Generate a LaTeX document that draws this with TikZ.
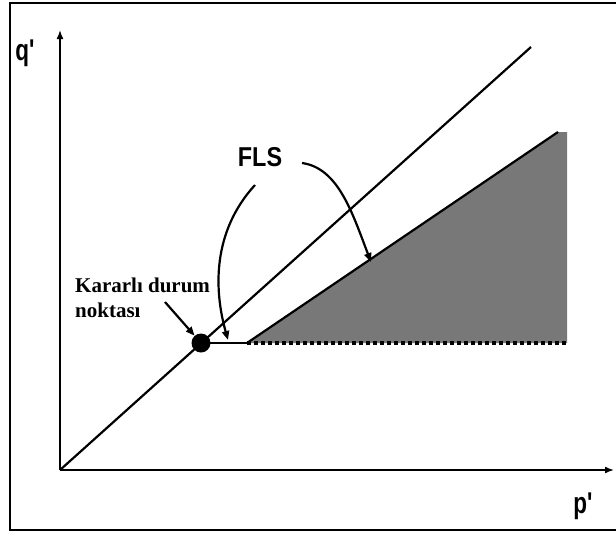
\documentclass[tikz,border=0pt]{standalone}
\usepackage{fontspec}
\setmainfont{Liberation Serif}
\setsansfont{Liberation Sans}
\usetikzlibrary{arrows.meta,calc,positioning}
\definecolor{ZoneGray}{RGB}{120,120,120}

\begin{document}
\begin{tikzpicture}[x=1pt,y=-1pt,>=Latex,
  axisline/.style={line width=1.6pt,-{Latex[length=9pt,width=7pt]}},
  stateline/.style={line width=2.2pt},
  pointer/.style={line width=2.2pt,-{Triangle[length=9pt,width=7pt]}},
  axislabel/.style={font=\sffamily\bfseries\fontsize{25}{25}\selectfont,inner sep=0pt}]
\useasboundingbox (0,0) rectangle (616,536);
% frame
\draw[line width=2.5pt] (618,3) -- (10,3) -- (10,530) -- (618,530);
% axes
\coordinate (o) at (60,470);
\coordinate (ytop) at (60,30);
\coordinate (xend) at (614,470);
\draw[axisline] (o) -- (ytop);
\draw[axisline] (o) -- (xend);
\node[axislabel] (q) at (25,53) {\scalebox{0.9}[1.2]{q\textquotesingle}};
\node[axislabel] (p) at (583,506) {\scalebox{0.9}[1.2]{p\textquotesingle}};
% shaded zone below the second line
\coordinate (k) at (247,343);
\coordinate (ktop) at (558,132);
\fill[ZoneGray] (k) -- (ktop) -- (567,132) -- (567,343) -- cycle;
\draw[line width=3.5pt,dash pattern=on 4pt off 3pt] (k) -- (567,343);
% lines
\draw[stateline] (o) -- (531,47);
\draw[stateline] (k) -- (ktop);
\node[circle,fill=black,minimum size=19pt,inner sep=0pt] (sp) at (201,343) {};
\draw[stateline] (sp.center) -- (k);
% labels
\node[font=\sffamily\bfseries\fontsize{26}{26}\selectfont,inner sep=0pt] (fls) at (260,157) {\scalebox{0.9}[1.05]{FLS}};
\node[font=\bfseries\fontsize{21}{25}\selectfont,align=left,anchor=north west,inner sep=0pt] (karar) at (75,278) {Kararlı durum\\noktası};
\coordinate (fa) at (255,185);
\coordinate (fb) at (302,163);
\coordinate (ta) at (228,340);
\coordinate (tb) at (371,262);
\draw[pointer] (fa) .. controls (212,232) and (214,290) .. (ta);
\draw[pointer] (fb) .. controls (338,168) and (352,212) .. (tb);
\draw[pointer] (165,302) -- (sp);
\end{tikzpicture}
\end{document}
